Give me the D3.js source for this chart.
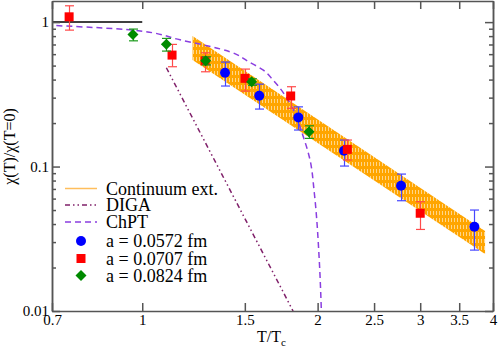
<!DOCTYPE html>
<html>
<head>
<meta charset="utf-8">
<script src="https://cdn.jsdelivr.net/npm/d3@7"></script>
<style>
  body { margin: 0; background: #fff; }
  text { font-family: "Liberation Serif", "Times New Roman", serif; }
</style>
</head>
<body>
<script>
// lattice data, a = 0.0572 fm
var blueT = [1.387, 1.588, 1.853, 2.22, 2.781, 3.716];
var blueChi = [0.446, 0.309, 0.219, 0.1286, 0.0737, 0.0383];
var blueLo = [0.361, 0.250, 0.179, 0.1008, 0.058, 0.0264];
var blueHi = [0.529, 0.372, 0.259, 0.1526, 0.0887, 0.050];

// a = 0.0707 fm
var redT = [0.749, 1.125, 1.282, 1.501, 1.798, 2.249, 3.0];
var redChi = [1.088, 0.591, 0.540, 0.408, 0.308, 0.1315, 0.0475];
var redLo = [0.880, 0.491, 0.453, 0.333, 0.253, 0.111, 0.0367];
var redHi = [1.297, 0.701, 0.613, 0.473, 0.357, 0.1526, 0.0571];

// a = 0.0824 fm
var greenT = [0.964, 1.100, 1.285, 1.541, 1.933];
var greenChi = [0.822, 0.704, 0.540, 0.386, 0.174];
var greenLo = [0.742, 0.630, 0.505, 0.365, 0.1567];
var greenHi = [0.895, 0.771, 0.575, 0.405, 0.1915];

// continuum band edges
var bandT = [1.22, 3.876];
var bandHi = [0.80, 0.0358];
var bandLo = [0.546, 0.0248];

// curves
var chptT = [0.7, 0.965, 1.161, 1.415, 1.531, 1.614, 1.677, 1.724, 1.793, 1.890, 1.941, 1.974, 2.013, 2.029];
var chptChi = [0.949, 0.880, 0.754, 0.623, 0.525, 0.465, 0.397, 0.348, 0.274, 0.161, 0.111, 0.0656, 0.0225, 0.0105];
var digaT = [1.1, 1.815];
var digaChi = [0.483, 0.01];
var flatT = [0.7, 1.0];
var flatChi = [1, 1];

var xTicks = [0.7, 1, 1.5, 2, 2.5, 3, 3.5, 4];
var yMajor = [0.01, 0.1, 1];
var legendLabels = ['Continuum ext.', 'DIGA', 'ChPT', 'a = 0.0572 fm', 'a = 0.0707 fm', 'a = 0.0824 fm'];

var width = 498, height = 349;
var padL = 52, padR = 493, padT = 1, padB = 311;

var svg = d3.select('body')
  .append('svg')
  .attr('width', width)
  .attr('height', height);

var x = d3.scaleLog().domain([0.7, 4]).range([padL, padR]);
var y = d3.scaleLog().domain([0.01, 1.4]).range([padB, padT]);

var yMinor = [];
[0.01, 0.1, 1].forEach(function(d) {
  for (var k = 2; k <= 9; k++) {
    if (d * k < 1.4) yMinor.push(d * k);
  }
});

// hatched orange fill for the band
var defs = svg.append('defs');
var pat = defs.append('pattern')
  .attr('id', 'hatch')
  .attr('patternUnits', 'userSpaceOnUse')
  .attr('width', 3)
  .attr('height', 7);
pat.append('rect').attr('width', 3).attr('height', 7).attr('fill', '#ffa500');
pat.append('rect').attr('x', 1).attr('y', 1).attr('width', 1).attr('height', 4).attr('fill', '#ffd68a');

var band = bandT.map(function(t, i) { return [t, bandHi[i]]; })
  .concat(bandT.map(function(t, i) { return [t, bandLo[i]]; }).reverse());

svg.append('path')
  .attr('d', 'M' + band.map(function(p) { return x(p[0]) + ',' + y(p[1]); }).join('L') + 'Z')
  .attr('fill', 'url(#hatch)');

var line = d3.line()
  .x(function(d) { return x(d[0]); })
  .y(function(d) { return y(d[1]); });

function pairs(a, b) {
  return a.map(function(v, i) { return [v, b[i]]; });
}

svg.append('path')
  .attr('d', line(pairs(flatT, flatChi)))
  .attr('fill', 'none')
  .attr('stroke', '#000')
  .attr('stroke-width', 1.5);

svg.append('path')
  .attr('d', line(pairs(digaT, digaChi)))
  .attr('fill', 'none')
  .attr('stroke', '#80206a')
  .attr('stroke-width', 1.5)
  .attr('stroke-dasharray', '5,3,1.5,3,1.5,3');

svg.append('path')
  .attr('d', line.curve(d3.curveMonotoneY)(pairs(chptT, chptChi).slice().reverse()))
  .attr('fill', 'none')
  .attr('stroke', '#8a3ee0')
  .attr('stroke-width', 1.5)
  .attr('stroke-dasharray', '6,4');
line.curve(d3.curveLinear);

// data points with error bars
function drawSeries(T, chi, lo, hi, color, barColor, shape) {
  var g = svg.append('g');
  T.forEach(function(t, i) {
    var cx = Math.round(x(t)) + 0.5;
    g.append('line')
      .attr('x1', cx).attr('x2', cx)
      .attr('y1', y(lo[i])).attr('y2', y(hi[i]))
      .attr('stroke', barColor).attr('stroke-width', 1.2);
    [lo[i], hi[i]].forEach(function(v) {
      g.append('line')
        .attr('x1', cx - 4.5).attr('x2', cx + 4.5)
        .attr('y1', y(v)).attr('y2', y(v))
        .attr('stroke', barColor).attr('stroke-width', 1.2);
    });
  });
  T.forEach(function(t, i) {
    symbol(g, x(t), y(chi[i]), color, shape);
  });
}

function symbol(g, cx, cy, color, shape) {
  if (shape === 'circle') {
    g.append('circle').attr('cx', cx).attr('cy', cy).attr('r', 5).attr('fill', color);
  } else if (shape === 'square') {
    g.append('rect').attr('x', cx - 4.5).attr('y', cy - 4.5).attr('width', 9).attr('height', 9).attr('fill', color);
  } else {
    g.append('path')
      .attr('d', 'M' + cx + ',' + (cy - 5.5) + 'L' + (cx + 5.5) + ',' + cy + 'L' + cx + ',' + (cy + 5.5) + 'L' + (cx - 5.5) + ',' + cy + 'Z')
      .attr('fill', color);
  }
}

drawSeries(blueT, blueChi, blueLo, blueHi, '#0000ff', '#4646ff', 'circle');
drawSeries(redT, redChi, redLo, redHi, '#ff0000', '#ff4a4a', 'square');
drawSeries(greenT, greenChi, greenLo, greenHi, '#008a00', '#1a9a1a', 'diamond');

// axes, ticks pointing inward
var fmt = function(d) { return String(d); };

function styleAxis(g) {
  g.selectAll('.domain').attr('stroke', '#555').attr('stroke-width', 1.5);
  g.selectAll('.tick line').attr('stroke', '#555').attr('stroke-width', 1.5);
  g.selectAll('text')
    .attr('fill', '#000')
    .style('font-family', '"Liberation Serif", serif')
    .style('font-size', '15px');
}

svg.append('g')
  .attr('transform', 'translate(0,' + padB + ')')
  .call(d3.axisBottom(x).tickValues(xTicks).tickFormat(fmt).tickSize(-8).tickPadding(3).tickSizeOuter(0))
  .call(styleAxis);

svg.append('g')
  .attr('transform', 'translate(0,' + padT + ')')
  .call(d3.axisTop(x).tickValues(xTicks).tickFormat('').tickSize(-8).tickSizeOuter(0))
  .call(styleAxis);

svg.append('g')
  .attr('transform', 'translate(' + padL + ',0)')
  .call(d3.axisLeft(y).tickValues(yMajor).tickFormat(fmt).tickSize(-8).tickPadding(3).tickSizeOuter(0))
  .call(styleAxis);

svg.append('g')
  .attr('transform', 'translate(' + padL + ',0)')
  .call(d3.axisLeft(y).tickValues(yMinor).tickFormat('').tickSize(-4).tickSizeOuter(0))
  .call(styleAxis);

svg.append('g')
  .attr('transform', 'translate(' + padR + ',0)')
  .call(d3.axisRight(y).tickValues(yMajor).tickFormat('').tickSize(-8).tickSizeOuter(0))
  .call(styleAxis);

svg.append('g')
  .attr('transform', 'translate(' + padR + ',0)')
  .call(d3.axisRight(y).tickValues(yMinor).tickFormat('').tickSize(-4).tickSizeOuter(0))
  .call(styleAxis);

// axis titles
var xt = svg.append('text')
  .attr('x', 257)
  .attr('y', 341.5)
  .style('font-size', '16px')
  .text('T/T');
xt.append('tspan')
  .attr('dy', 4)
  .style('font-size', '11px')
  .text('c');

svg.append('text')
  .attr('transform', 'translate(15,146.5) rotate(-90)')
  .attr('text-anchor', 'middle')
  .style('font-size', '16px')
  .text('χ(T)/χ(T=0)');

// legend
var legY = [188.5, 205, 222, 241, 258.5, 275.5];
var leg = svg.append('g');
leg.append('line').attr('x1', 65).attr('x2', 97).attr('y1', legY[0]).attr('y2', legY[0])
  .attr('stroke', '#ffbe5c').attr('stroke-width', 1.5);
leg.append('line').attr('x1', 65).attr('x2', 97).attr('y1', legY[1]).attr('y2', legY[1])
  .attr('stroke', '#80206a').attr('stroke-width', 1.5).attr('stroke-dasharray', '5,3,1.5,3,1.5,3');
leg.append('line').attr('x1', 65).attr('x2', 97).attr('y1', legY[2]).attr('y2', legY[2])
  .attr('stroke', '#8a3ee0').attr('stroke-width', 1.5).attr('stroke-dasharray', '6,4');
symbol(leg, 81, legY[3], '#0000ff', 'circle');
symbol(leg, 81, legY[4], '#ff0000', 'square');
symbol(leg, 81, legY[5], '#008a00', 'diamond');

leg.selectAll('text.lab')
  .data(legendLabels)
  .enter()
  .append('text')
  .attr('class', 'lab')
  .attr('x', 106)
  .attr('y', function(d, i) { return legY[i] + 6; })
  .style('font-size', '18px')
  .text(function(d) { return d; });
</script>
</body>
</html>
